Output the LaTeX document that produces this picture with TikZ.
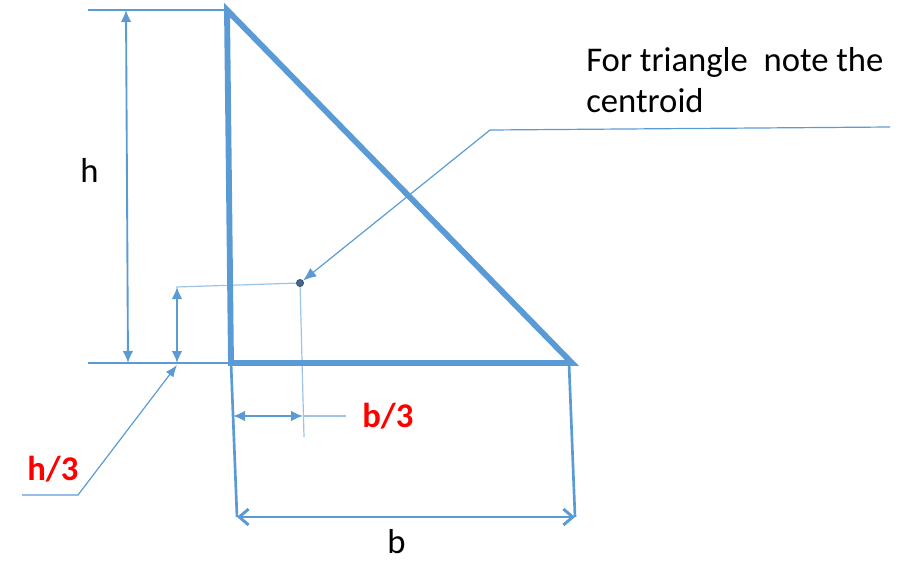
\documentclass[tikz,border=0pt]{standalone}
\usepackage{fontspec}
\setmainfont{Carlito}
\usetikzlibrary{arrows.meta}
\definecolor{bl}{RGB}{91,155,213}
\definecolor{rd}{RGB}{255,0,0}
\definecolor{dotc}{RGB}{68,102,140}
\begin{document}
\begin{tikzpicture}[x=0.75pt,y=-0.75pt,
  thin line/.style={draw=bl,line width=0.9pt},
  faint line/.style={draw=bl!60,line width=0.9pt},
  dimarrow/.style={draw=bl,line width=1.4pt,{Latex[length=9pt,width=8pt]}-{Latex[length=9pt,width=8pt]}},
  barrow/.style={draw=bl,line width=2.2pt,{Straight Barb[length=7pt,width=12pt]}-{Straight Barb[length=7pt,width=12pt]}},
  tri/.style={draw=bl,line width=4.4pt,line join=miter},
  lbl/.style={font=\fontsize{26}{30}\selectfont,text=black,inner sep=0pt,anchor=base west},
  rlbl/.style={font=\fontsize{26}{30}\selectfont\bfseries,text=rd,inner sep=0pt,anchor=base west}]
\useasboundingbox (0,0) rectangle (907,561);
% key points
\coordinate (T) at (227,10);
\coordinate (BL) at (231,363);
\coordinate (BR) at (572,363);
\coordinate (C) at (300,283);
% extension lines
\coordinate (topext) at (88,10);
\coordinate (botext) at (88,363);
\draw[thin line] (topext) -- (T);
\draw[thin line] (botext) -- (BL);
% h dimension
\coordinate (hT) at (126,10);
\coordinate (hB) at (128,363);
\draw[dimarrow] (hB) -- (hT);
\node[lbl] (h) at (80,182) {h};
% centroid reference lines
\coordinate (cl) at (176,287);
\coordinate (cd) at (304,437);
\draw[faint line] (cl) -- (C);
\draw[faint line] (C) -- (cd);
% h/3 dimension
\coordinate (h3T) at (177,287);
\coordinate (h3B) at (177,363);
\draw[dimarrow] (h3B) -- (h3T);
\coordinate (h3a) at (22,495);
\coordinate (h3b) at (78,495);
\draw[thin line,-{Latex[length=9pt,width=7pt]}] (h3a) -- (h3b) -- (177,365);
\node[rlbl] (h3) at (27,480) {h/3};
% b extension lines
\coordinate (bL) at (237,517);
\coordinate (bR) at (575,517);
\draw[draw=bl,line width=2pt] (BL) -- (bL);
\draw[draw=bl,line width=2pt] (569,363) -- (bR);
\draw[barrow] (bL) -- (bR);
\node[lbl] (b) at (387,553) {b};
% b/3 dimension
\coordinate (b3L) at (233,416);
\coordinate (b3R) at (303,416);
\coordinate (b3E) at (346,416);
\draw[dimarrow] (b3L) -- (b3R);
\draw[faint line] (b3R) -- (b3E);
\node[rlbl] (b3) at (362,427) {b/3};
% triangle
\draw[tri] (T) -- (BL) -- (BR) -- cycle;
% centroid dot
\node[circle,fill=dotc,draw=dotc!70!black,inner sep=0pt,minimum size=5.5pt] (dot) at (C) {};
% callout
\node[lbl,align=left,font=\fontsize{26}{30.75}\selectfont] (txt) at (586,112) {For triangle\ \ note the\\centroid};
\coordinate (c1) at (890,127);
\coordinate (c2) at (490,130);
\draw[thin line,-{Latex[length=10pt,width=8pt]}] (c1) -- (c2) -- (dot);
\end{tikzpicture}
\end{document}
